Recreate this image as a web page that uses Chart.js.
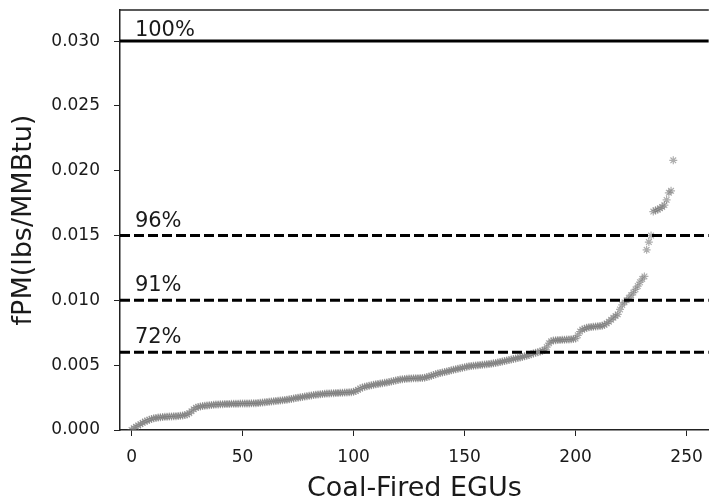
<!DOCTYPE html>
<html>
<head>
<meta charset="utf-8">
<script src="https://cdn.jsdelivr.net/npm/chart.js@4.4.1/dist/chart.umd.min.js"></script>
<style>
  html, body { margin: 0; padding: 0; background: #fff; }
  #wrap { width: 714px; height: 498px; }
</style>
</head>
<body>
<div id="wrap"><canvas id="egu-chart"></canvas></div>
<script>
// fPM emission rate of each coal-fired EGU, sorted ascending (lbs/MMBtu)
const fpmValues = [
  0.00000, 0.00015, 0.00025, 0.00035, 0.00045, 0.00055, 0.00065, 0.00072, 0.00080, 0.00085,
  0.00090, 0.00093, 0.00096, 0.00098, 0.00100, 0.00102, 0.00103, 0.00104, 0.00105, 0.00106,
  0.00107, 0.00108, 0.00110, 0.00112, 0.00115, 0.00120, 0.00130, 0.00145, 0.00160, 0.00172,
  0.00178, 0.00182, 0.00185, 0.00187, 0.00189, 0.00191, 0.00193, 0.00195, 0.00196, 0.00197,
  0.00198, 0.00199, 0.00200, 0.00200, 0.00201, 0.00202, 0.00202, 0.00203, 0.00203, 0.00204,
  0.00204, 0.00205, 0.00205, 0.00205, 0.00206, 0.00206, 0.00207, 0.00208, 0.00210, 0.00212,
  0.00214, 0.00216, 0.00218, 0.00220, 0.00222, 0.00224, 0.00226, 0.00228, 0.00230, 0.00232,
  0.00234, 0.00237, 0.00240, 0.00243, 0.00246, 0.00249, 0.00252, 0.00255, 0.00258, 0.00261,
  0.00264, 0.00267, 0.00270, 0.00272, 0.00274, 0.00276, 0.00278, 0.00280, 0.00281, 0.00282,
  0.00283, 0.00284, 0.00285, 0.00286, 0.00287, 0.00288, 0.00289, 0.00290, 0.00291, 0.00292,
  0.00295, 0.00300, 0.00310, 0.00320, 0.00328, 0.00333, 0.00337, 0.00341, 0.00345, 0.00349,
  0.00352, 0.00355, 0.00358, 0.00361, 0.00364, 0.00367, 0.00370, 0.00374, 0.00378, 0.00382,
  0.00386, 0.00390, 0.00392, 0.00394, 0.00396, 0.00397, 0.00398, 0.00399, 0.00400, 0.00400,
  0.00401, 0.00402, 0.00404, 0.00408, 0.00413, 0.00418, 0.00424, 0.00430, 0.00436, 0.00440,
  0.00444, 0.00448, 0.00452, 0.00456, 0.00460, 0.00464, 0.00468, 0.00472, 0.00476, 0.00480,
  0.00485, 0.00488, 0.00491, 0.00494, 0.00496, 0.00498, 0.00500, 0.00502, 0.00504, 0.00506,
  0.00508, 0.00510, 0.00512, 0.00514, 0.00517, 0.00520, 0.00524, 0.00528, 0.00532, 0.00536,
  0.00540, 0.00544, 0.00548, 0.00552, 0.00556, 0.00560, 0.00564, 0.00568, 0.00572, 0.00578,
  0.00584, 0.00590, 0.00596, 0.00600, 0.00605, 0.00612, 0.00620, 0.00640, 0.00670, 0.00685,
  0.00690, 0.00692, 0.00694, 0.00695, 0.00696, 0.00697, 0.00698, 0.00699, 0.00700, 0.00702,
  0.00705, 0.00730, 0.00760, 0.00775, 0.00782, 0.00788, 0.00792, 0.00795, 0.00797, 0.00799,
  0.00800, 0.00802, 0.00805, 0.00812, 0.00822, 0.00835, 0.00850, 0.00865, 0.00880, 0.00892,
  0.00930, 0.00965, 0.00985, 0.01000, 0.01020, 0.01040, 0.01060, 0.01085, 0.01110, 0.01140,
  0.01165, 0.01185, 0.01390, 0.01450, 0.01500, 0.01685, 0.01695, 0.01700, 0.01710, 0.01720,
  0.01735, 0.01775, 0.01830, 0.01845, 0.02080
];

// limit lines and the share of units under each
const thresholds = [0.030, 0.015, 0.010, 0.006];
const thresholdLabels = ['100%', '96%', '91%', '72%'];
const thresholdDashed = [false, true, true, true];

const xTicks = [0, 50, 100, 150, 200, 250];
const yTicks = [0.000, 0.005, 0.010, 0.015, 0.020, 0.025, 0.030];

const X_MIN = -5.2, X_MAX = 260;
const Y_MIN = 0, Y_MAX = 0.0324;
const LABEL_X = 1.5;

const ink = '#1a1a1a';
Chart.defaults.font.family = '"DejaVu Sans", sans-serif';
Chart.defaults.color = ink;

const points = fpmValues.map((v, i) => ({ x: i, y: v }));

const lineSets = thresholds.map((t, i) => ({
  type: 'line',
  data: [{ x: X_MIN, y: t }, { x: X_MAX, y: t }],
  borderColor: '#000',
  borderWidth: 3,
  borderDash: thresholdDashed[i] ? [10, 4] : [],
  pointRadius: 0,
  fill: false,
  order: 0
}));

// threshold labels + top spine
const extras = {
  id: 'extras',
  afterDatasetsDraw(chart) {
    const { ctx, chartArea, scales: { x, y } } = chart;
    ctx.save();
    ctx.font = '21px "DejaVu Sans"';
    ctx.fillStyle = ink;
    ctx.textAlign = 'left';
    ctx.textBaseline = 'alphabetic';
    thresholds.forEach((t, i) => {
      const lift = i === 0 ? 5 : 9;
      ctx.fillText(thresholdLabels[i], x.getPixelForValue(LABEL_X), y.getPixelForValue(t) - lift);
    });
    ctx.strokeStyle = '#222';
    ctx.lineWidth = 1.5;
    ctx.beginPath();
    ctx.moveTo(chartArea.left, chartArea.top);
    ctx.lineTo(chartArea.right, chartArea.top);
    ctx.stroke();
    ctx.restore();
  }
};

new Chart(document.getElementById('egu-chart'), {
  type: 'scatter',
  data: {
    datasets: [{
      label: 'fPM',
      data: points,
      pointStyle: 'star',
      pointRadius: 4,
      borderWidth: 1.2,
      borderColor: 'rgba(120,120,120,0.6)',
      backgroundColor: 'rgba(120,120,120,0.6)',
      order: 1
    }, ...lineSets]
  },
  options: {
    responsive: true,
    maintainAspectRatio: false,
    animation: false,
    layout: { padding: { top: 10, right: 0, left: 0, bottom: 0 } },
    plugins: { legend: { display: false }, tooltip: { enabled: false } },
    scales: {
      x: {
        type: 'linear',
        min: X_MIN,
        max: X_MAX,
        afterBuildTicks: s => { s.ticks = xTicks.map(v => ({ value: v })); },
        afterFit: s => { s.height = 68; s.paddingLeft = 0; s.paddingRight = 0; },
        ticks: { font: { size: 17 }, padding: 11, maxRotation: 0 },
        grid: { drawOnChartArea: false, tickLength: 6, color: '#222' },
        border: { color: '#222', width: 1.5 },
        title: { display: true, text: 'Coal-Fired EGUs', font: { size: 27 }, padding: { top: 0, bottom: -7 } }
      },
      y: {
        min: Y_MIN,
        max: Y_MAX,
        afterBuildTicks: s => { s.ticks = yTicks.map(v => ({ value: v })); },
        afterFit: s => { s.width = 120; s.paddingTop = 0; s.paddingBottom = 0; },
        ticks: { font: { size: 17 }, padding: 14, callback: v => v.toFixed(3) },
        grid: { drawOnChartArea: false, tickLength: 6, color: '#222' },
        border: { color: '#222', width: 1.5 },
        title: { display: true, text: 'fPM(lbs/MMBtu)', font: { size: 27 }, padding: { top: 8, bottom: 0 } }
      }
    }
  },
  plugins: [extras]
});
</script>
</body>
</html>
